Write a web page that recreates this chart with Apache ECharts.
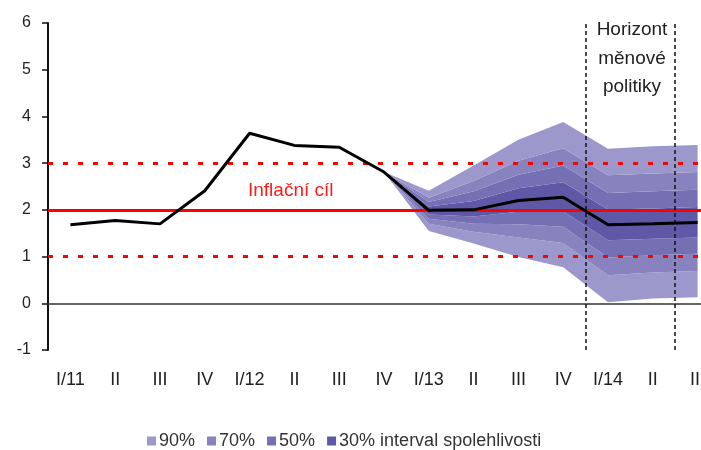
<!DOCTYPE html>
<html>
<head>
<meta charset="UTF-8">
<title>Prognóza inflace</title>
<style>
	html, body { margin: 0; padding: 0; background: #fff; }
	#main { width: 701px; height: 450px; }
</style>
</head>
<body>
<div id="main"></div>
<script src="https://cdn.jsdelivr.net/npm/echarts@6/dist/echarts.min.js"></script>
<script>
var categories = ['I/11','II','III','IV','I/12','II','III','IV','I/13','II','III','IV','I/14','II','III'];
var yTicks = [-1, 0, 1, 2, 3, 4, 5, 6];
var inflation = [1.68, 1.77, 1.70, 2.41, 3.64, 3.38, 3.34, 2.81, 1.99, 2.00, 2.20, 2.27, 1.68, 1.70, 1.73];

// fan starts at IV/12 (index 7)
var fanStart = 7;
var lo90 = [2.81, 1.55, 1.28, 0.99, 0.77, 0.02, 0.10, 0.13];
var lo70 = [2.81, 1.70, 1.53, 1.41, 1.29, 0.60, 0.66, 0.69];
var lo50 = [2.81, 1.81, 1.70, 1.69, 1.64, 0.98, 1.03, 1.06];
var lo30 = [2.81, 1.90, 1.86, 1.96, 1.97, 1.35, 1.38, 1.41];
var hi30 = [2.81, 2.07, 2.19, 2.46, 2.59, 2.01, 2.03, 2.06];
var hi50 = [2.81, 2.17, 2.40, 2.75, 2.95, 2.36, 2.40, 2.43];
var hi70 = [2.81, 2.26, 2.62, 3.05, 3.32, 2.74, 2.78, 2.81];
var hi90 = [2.81, 2.41, 2.95, 3.50, 3.88, 3.31, 3.36, 3.39];

var target = 2;
var band = [1, 3];
var horizon = [11.5, 13.5];

var c90 = '#9c98cb', c70 = '#8883bf', c50 = '#7570b3', c30 = '#5f58a6';
var font = 'Liberation Sans, Arial, sans-serif';

function pad(arr){
	var out = [];
	for (var i = 0; i < fanStart; i++) out.push(null);
	return out.concat(arr);
}
function diff(a, b){
	return a.map(function(v, i){ return +(v - b[i]).toFixed(3); });
}
function fanSeries(name, data, color){
	return {
		name: name, type: 'line', stack: 'fan', data: pad(data),
		symbol: 'none', silent: true, z: 1,
		lineStyle: { width: 0 },
		itemStyle: { color: color },
		areaStyle: { color: color, opacity: 1 }
	};
}

var myChart = echarts.init(document.getElementById('main'));
myChart.setOption({
	animation: false,
	textStyle: { fontFamily: font },
	grid: { left: 48, top: 23, width: 672, height: 327, containLabel: false, outerBoundsMode: 'none' },
	legend: {
		data: ['90%', '70%', '50%', '30% interval spolehlivosti'],
		left: 147, top: 432, padding: 0,
		icon: 'rect', itemWidth: 9, itemHeight: 9, itemGap: 12,
		textStyle: { fontSize: 18, color: '#333', padding: [0, 0, 0, -2] }
	},
	xAxis: [
		{
			type: 'category', data: categories, boundaryGap: true,
			axisLine: { show: false, onZero: false },
			axisTick: { show: false },
			axisLabel: { fontSize: 18, color: '#222', margin: 21, interval: 0 }
		},
		{ type: 'value', min: -0.5, max: 14.5, show: false }
	],
	yAxis: {
		type: 'value', min: yTicks[0], max: yTicks[yTicks.length - 1], interval: 1,
		axisLine: { show: true, onZero: false, lineStyle: { color: '#111', width: 2 } },
		axisTick: { show: true, inside: false, length: 6, lineStyle: { color: '#111', width: 1.5 } },
		axisLabel: { fontSize: 16, color: '#222', margin: 17 },
		splitLine: { show: false }
	},
	graphic: [
		{ type: 'text', x: 248, y: 181, style: { text: 'Inflační cíl', fill: '#ff1a1a', font: '19px ' + font } },
		{ type: 'text', x: 632, y: 16, style: { text: 'Horizont\nměnové\npolitiky', fill: '#222', font: '19px ' + font, align: 'center', textAlign: 'center', lineHeight: 28.5 } }
	],
	series: [
		{ name: 'base', type: 'line', stack: 'fan', data: pad(lo90), symbol: 'none', silent: true, lineStyle: { width: 0 }, z: 1 },
		fanSeries('90%', diff(lo70, lo90), c90),
		fanSeries('70%', diff(lo50, lo70), c70),
		fanSeries('50%', diff(lo30, lo50), c50),
		fanSeries('30% interval spolehlivosti', diff(hi30, lo30), c30),
		fanSeries('50%', diff(hi50, hi30), c50),
		fanSeries('70%', diff(hi70, hi50), c70),
		fanSeries('90%', diff(hi90, hi70), c90),
		{
			name: 'refs', type: 'line', xAxisIndex: 1, data: [], z: 3, silent: true,
			markLine: {
				symbol: 'none', silent: true, label: { show: false },
				data: [
					{ yAxis: 0, lineStyle: { color: '#333', width: 1.5, type: 'solid' } },
					{ yAxis: target, lineStyle: { color: '#ff0000', width: 3, type: 'solid' } },
					{ yAxis: band[0], lineStyle: { color: '#ff0000', width: 3, type: [5, 10] } },
					{ yAxis: band[1], lineStyle: { color: '#ff0000', width: 3, type: [5, 10] } },
					{ xAxis: horizon[0], lineStyle: { color: '#111', width: 1.5, type: [4, 3] } },
					{ xAxis: horizon[1], lineStyle: { color: '#111', width: 1.5, type: [4, 3] } }
				]
			}
		},
		{
			name: 'inflace', type: 'line', data: inflation, symbol: 'none', z: 5,
			lineStyle: { color: '#000', width: 3 }, itemStyle: { color: '#000' }
		}
	]
});
</script>
</body>
</html>
